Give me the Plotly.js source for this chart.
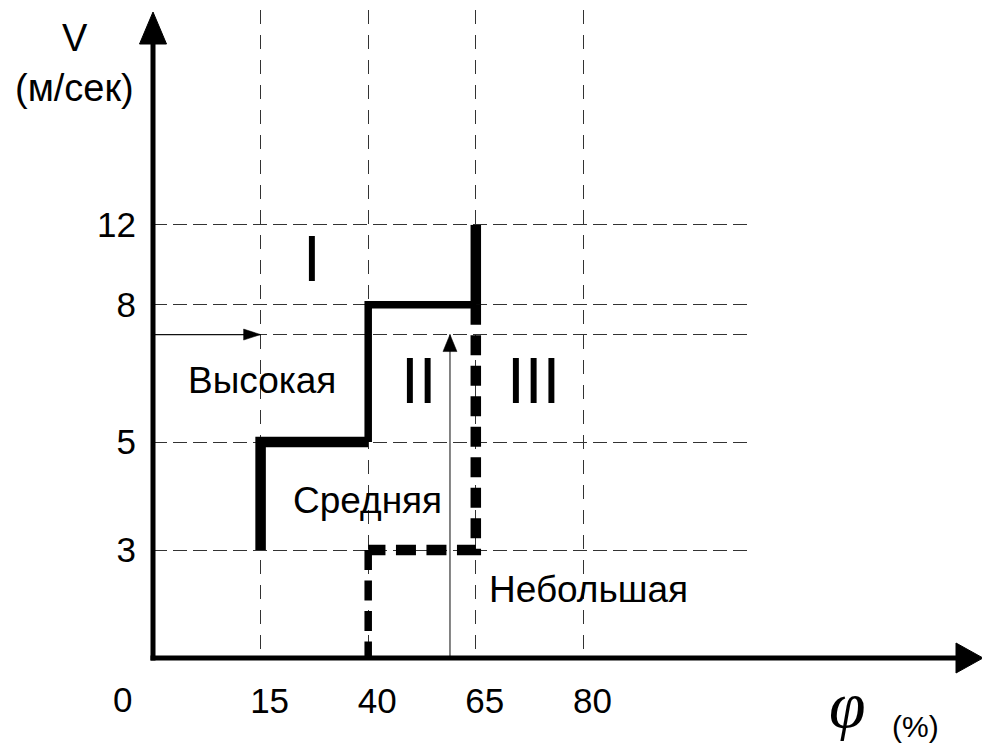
<!DOCTYPE html>
<html>
<head>
<meta charset="utf-8">
<script src="https://cdn.plot.ly/plotly-3.0.1.min.js"></script>
<style>
  html, body { margin: 0; padding: 0; background: #ffffff; }
  #chart { width: 982px; height: 748px; }
</style>
</head>
<body>
<div id="chart"></div>
<script>
// ---------------- DATA ----------------
// Relative humidity φ (%) tick values, V (м/сек) tick values
const phiTicks = [0, 15, 40, 65, 80];
const vTicks = [0, 3, 5, 8, 12];

// Boundary between zone I and zone II (solid)
const boundaryI_phi = [15, 15, 40, 40, 65, 65];
const boundaryI_v   = [3, 5, 5, 8, 8, 12];

// Boundary between zone II and zone III (dashed)
const boundaryII_phi = [65, 65, 40, 40];
const boundaryII_v   = [8, 3, 3, 0];

// Example reading (arrows)
const readingPhi = 59;
const readingV = 7.35;

// Zone names and humidity category names
const zoneNames = ['I', 'II', 'III'];
const categoryNames = ['Высокая', 'Средняя', 'Небольшая'];

// ---------------- SCALE (schematic, non-linear axes) ----------------
const vTickLevel = [0, 1, 2, 3.27, 4.01];
function interp(val, xs, ys) {
  for (let i = 0; i < xs.length - 1; i++) {
    if (val <= xs[i + 1] || i === xs.length - 2) {
      return ys[i] + (val - xs[i]) / (xs[i + 1] - xs[i]) * (ys[i + 1] - ys[i]);
    }
  }
}
const phiIdx = phiTicks.map((_, i) => i);
const X = p => interp(p, phiTicks, phiIdx);
const Y = v => interp(v, vTicks, vTickLevel);

const FONT = '"Liberation Sans", Arial, sans-serif';
const INK = '#000000';
const GRID = '#333333';

// ---------------- TRACES ----------------
const traces = [];
// solid boundary split into segments of differing stroke
const segs = [[0, 3, 10.5], [2, 5, 7.5], [4, 6, 10.5]];
segs.forEach(s => {
  traces.push({
    type: 'scatter', mode: 'lines', hoverinfo: 'skip', showlegend: false,
    x: boundaryI_phi.slice(s[0], s[1]).map(X),
    y: boundaryI_v.slice(s[0], s[1]).map(Y),
    line: { color: INK, width: s[2] }
  });
});
// dashed boundary: vertical at 65 and horizontal at 3 thick, vertical at 40 thinner
traces.push({
  type: 'scatter', mode: 'lines', hoverinfo: 'skip', showlegend: false,
  x: boundaryII_phi.slice(0, 3).map(X),
  y: boundaryII_v.slice(0, 3).map(Y),
  line: { color: INK, width: 10.5, dash: '20px,10.5px' }
});
traces.push({
  type: 'scatter', mode: 'lines', hoverinfo: 'skip', showlegend: false,
  x: boundaryII_phi.slice(2, 4).map(X),
  y: boundaryII_v.slice(2, 4).map(Y),
  line: { color: INK, width: 7.5, dash: '20px,10.5px' }
});
// reading arrows
traces.push({
  type: 'scatter', mode: 'lines', hoverinfo: 'skip', showlegend: false,
  x: [X(0), X(15)], y: [Y(readingV), Y(readingV)],
  line: { color: '#111', width: 1.2 }
});
traces.push({
  type: 'scatter', mode: 'lines', hoverinfo: 'skip', showlegend: false,
  x: [X(readingPhi), X(readingPhi)], y: [Y(0), Y(readingV)],
  line: { color: '#333', width: 1.2 }
});

// ---------------- LAYOUT ----------------
const shapes = [
  // x axis line with arrow
  { type: 'line', xref: 'paper', yref: 'paper', xsizemode: 'pixel', ysizemode: 'pixel',
    xanchor: 0, yanchor: 0, x0: -2.5, x1: 806, y0: 0, y1: 0,
    line: { color: INK, width: 5 }, layer: 'above' },
  { type: 'path', xref: 'paper', yref: 'paper', xsizemode: 'pixel', ysizemode: 'pixel',
    xanchor: 0, yanchor: 0, path: 'M 803 15 L 830 0 L 803 -15 Z',
    fillcolor: INK, line: { color: INK, width: 1 }, layer: 'above' },
  // y axis line with arrow
  { type: 'line', xref: 'paper', yref: 'paper', xsizemode: 'pixel', ysizemode: 'pixel',
    xanchor: 0, yanchor: 0, x0: 0, x1: 0, y0: -2.5, y1: 617,
    line: { color: INK, width: 5 }, layer: 'above' },
  { type: 'path', xref: 'paper', yref: 'paper', xsizemode: 'pixel', ysizemode: 'pixel',
    xanchor: 0, yanchor: 0, path: 'M -13.5 614 L 0 646 L 13.5 614 Z',
    fillcolor: INK, line: { color: INK, width: 1 }, layer: 'above' },
  // reading arrowheads
  { type: 'path', xref: 'x', yref: 'y', xsizemode: 'pixel', ysizemode: 'pixel',
    xanchor: X(15), yanchor: Y(readingV), path: 'M -17 5.5 L 0 0 L -17 -5.5 Z',
    fillcolor: INK, line: { color: INK, width: 0.5 } },
  { type: 'path', xref: 'x', yref: 'y', xsizemode: 'pixel', ysizemode: 'pixel',
    xanchor: X(readingPhi), yanchor: Y(readingV), path: 'M -7 -17 L 0 0 L 7 -17 Z',
    fillcolor: INK, line: { color: INK, width: 0.5 } }
];

const annotations = [];
const zonePos = [[1.479, 3.69], [2.474, 2.565], [3.535, 2.565]];
zoneNames.forEach((t, i) => annotations.push({
  text: t, x: zonePos[i][0], y: zonePos[i][1], xref: 'x', yref: 'y', showarrow: false,
  font: { family: FONT, size: 64, color: INK }, xanchor: 'center', yanchor: 'middle'
}));
const catPos = [[1.013, 2.565], [1.998, 1.463], [4.043, 0.63]];
categoryNames.forEach((t, i) => annotations.push({
  text: t, x: catPos[i][0], y: catPos[i][1], xref: 'x', yref: 'y', showarrow: false,
  font: { family: FONT, size: 37, color: INK }, xanchor: 'center', yanchor: 'middle'
}));
// axis names
annotations.push({ text: 'V', xref: 'paper', yref: 'paper', x: -0.1309, y: 0.9568,
  showarrow: false, font: { family: FONT, size: 38, color: INK }, xanchor: 'center', yanchor: 'middle' });
annotations.push({ text: '(м/сек)', xref: 'paper', yref: 'paper', x: -0.1309, y: 0.8796,
  showarrow: false, font: { family: FONT, size: 38, color: INK }, xanchor: 'center', yanchor: 'middle' });
annotations.push({ text: 'φ', xref: 'paper', yref: 'paper', x: 1.1661, y: -0.072,
  showarrow: false, font: { family: '"Liberation Serif", serif', size: 66, color: INK, style: 'italic' },
  xanchor: 'center', yanchor: 'middle' });
annotations.push({ text: '(%)', xref: 'paper', yref: 'paper', x: 1.2802, y: -0.105,
  showarrow: false, font: { family: FONT, size: 30, color: INK }, xanchor: 'center', yanchor: 'middle' });
// origin label
annotations.push({ text: String(phiTicks[0]), xref: 'paper', yref: 'paper', x: -0.052, y: -0.0648,
  showarrow: false, font: { family: FONT, size: 35, color: INK }, xanchor: 'center', yanchor: 'middle' });

const layout = {
  width: 982, height: 748,
  margin: { l: 153, r: 233, t: 10, b: 90, pad: 0 },
  paper_bgcolor: '#ffffff', plot_bgcolor: '#ffffff',
  showlegend: false,
  font: { family: FONT, color: INK },
  xaxis: {
    range: [0, 5.539], fixedrange: true, automargin: false,
    tickvals: phiTicks.slice(1).map(X), ticktext: phiTicks.slice(1).map(String),
    showgrid: true, gridcolor: GRID, gridwidth: 1, griddash: '14px,11px',
    zeroline: false, showline: false, ticks: '',
    tickfont: { family: FONT, size: 35, color: INK },
    ticklabelstandoff: 19, ticklabelshift: 9
  },
  yaxis: {
    range: [0, 6], fixedrange: true, automargin: false,
    tickvals: vTicks.slice(1).map(Y).concat([Y(readingV)]),
    ticktext: vTicks.slice(1).map(String).concat(['']),
    showgrid: true, gridcolor: GRID, gridwidth: 1, griddash: '14px,6px',
    zeroline: false, showline: false, ticks: '',
    tickfont: { family: FONT, size: 35, color: INK },
    ticklabelstandoff: 16
  },
  shapes: shapes,
  annotations: annotations
};

Plotly.newPlot('chart', traces, layout, { staticPlot: true, displayModeBar: false });
</script>
</body>
</html>
